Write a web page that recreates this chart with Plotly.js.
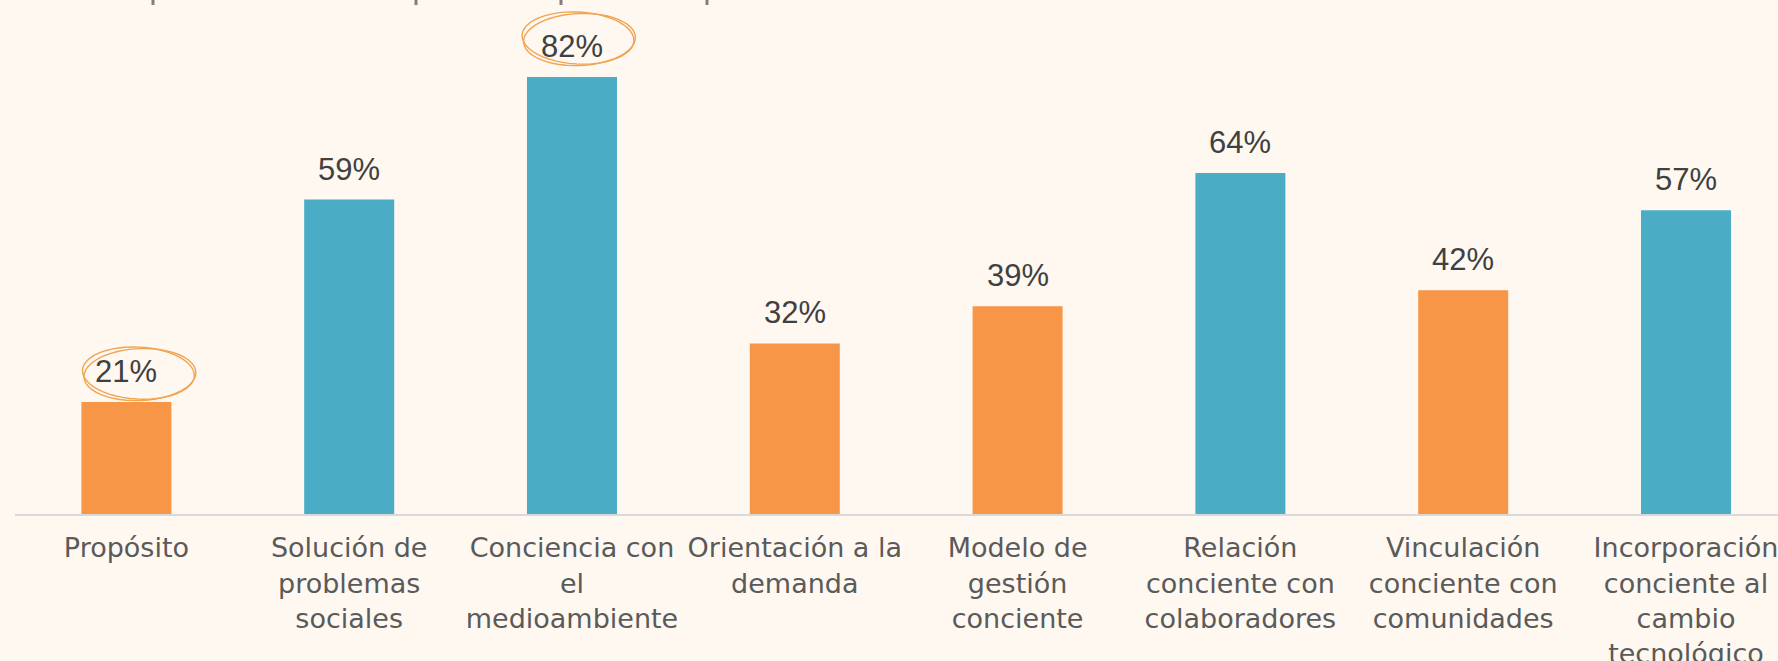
<!DOCTYPE html>
<html>
<head>
<meta charset="utf-8">
<script src="https://cdn.plot.ly/plotly-3.0.1.min.js"></script>
<style>
  html, body { margin: 0; padding: 0; background: #FEF8F1; }
  #chart { width: 1778px; height: 661px; }
</style>
</head>
<body>
<div id="chart"></div>
<script>
// ---- data ----
const categories = [
  "Propósito",
  "Solución de<br>problemas<br>sociales",
  "Conciencia con<br>el<br>medioambiente",
  "Orientación a la<br>demanda",
  "Modelo de<br>gestión<br>conciente",
  "Relación<br>conciente con<br>colaboradores",
  "Vinculación<br>conciente con<br>comunidades",
  "Incorporación<br>conciente al<br>cambio<br>tecnológico"
];
const values = [21, 59, 82, 32, 39, 64, 42, 57];
const groups = ["low", "high", "high", "low", "low", "high", "low", "high"];
const highlighted = [0, 2]; // indices of circled labels

// ---- styles ----
const ORANGE = "#F79646";
const BLUE = "#4BACC6";
const barColors = groups.map(g => g === "low" ? ORANGE : BLUE);
const xIdx = categories.map((_, i) => i);

const annotations = values.map((v, i) => ({
  x: i, y: v, xref: "x", yref: "y",
  text: v + "%",
  showarrow: false,
  yanchor: "bottom",
  yshift: 11,
  font: { family: "Liberation Sans, Arial, sans-serif", size: 31, color: "#404040" }
}));

// hand-drawn ellipse path (pixel coords relative to anchor)
function ellipsePath(cx, cy, rx, ry, rotDeg) {
  const r = rotDeg * Math.PI / 180;
  const pts = [];
  for (let k = 0; k <= 48; k++) {
    const t = (k / 48) * 2 * Math.PI;
    const ex = rx * Math.cos(t), ey = ry * Math.sin(t);
    const px = cx + ex * Math.cos(r) - ey * Math.sin(r);
    const py = cy + ex * Math.sin(r) + ey * Math.cos(r);
    pts.push((k === 0 ? "M" : "L") + px.toFixed(2) + "," + py.toFixed(2));
  }
  return pts.join(" ") + " Z";
}

const ringDefs = {
  0: { cx: 12, cy: 29, rx: 56, ry: 26 },
  2: { cx: 6, cy: 39, rx: 56, ry: 26 }
};
const shapes = [];
highlighted.forEach(i => {
  const d = ringDefs[i];
  [[-3, 0, 0], [2.5, 1.5, -1.5]].forEach(([rot, dx, dy]) => {
    shapes.push({
      type: "path", xref: "x", yref: "y",
      xsizemode: "pixel", ysizemode: "pixel",
      xanchor: i, yanchor: values[i],
      path: ellipsePath(d.cx + dx, d.cy + dy, d.rx, d.ry, rot),
      line: { color: "#EFA552", width: 1.4 },
      fillcolor: "rgba(0,0,0,0)"
    });
  });
});

// cut-off title descenders at the very top
[153, 416, 561, 707].forEach(px => {
  shapes.push({
    type: "rect", xref: "paper", yref: "paper",
    xsizemode: "pixel", ysizemode: "pixel",
    xanchor: 0, yanchor: 1,
    x0: px - 15 - 1.5, x1: px - 15 + 1.5, y0: -5, y1: 0,
    line: { width: 0 }, fillcolor: "#7F7F7F"
  });
});

const trace = {
  type: "bar",
  x: xIdx,
  y: values,
  marker: { color: barColors, line: { width: 0 } },
  hoverinfo: "skip"
};

const layout = {
  width: 1778, height: 661,
  margin: { l: 15, r: 0, t: 0, b: 147 },
  paper_bgcolor: "#FEF8F1",
  plot_bgcolor: "#FEF8F1",
  showlegend: false,
  bargap: 0.596,
  xaxis: {
    range: [-0.5, 7.413],
    tickmode: "array",
    tickvals: xIdx,
    ticktext: categories,
    showline: true, linecolor: "#D9D9D9", linewidth: 2,
    showgrid: false, zeroline: false,
    ticks: "", ticklabelstandoff: 9,
    ticklabeloverflow: "allow",
    tickfont: { family: "DejaVu Sans, sans-serif", size: 27, color: "#5A5A5A" },
    fixedrange: true
  },
  yaxis: {
    range: [0, 96.45],
    visible: false,
    showgrid: false, zeroline: false,
    fixedrange: true
  },
  annotations: annotations,
  shapes: shapes
};

Plotly.newPlot("chart", [trace], layout, { displayModeBar: false, staticPlot: true });
</script>
</body>
</html>
